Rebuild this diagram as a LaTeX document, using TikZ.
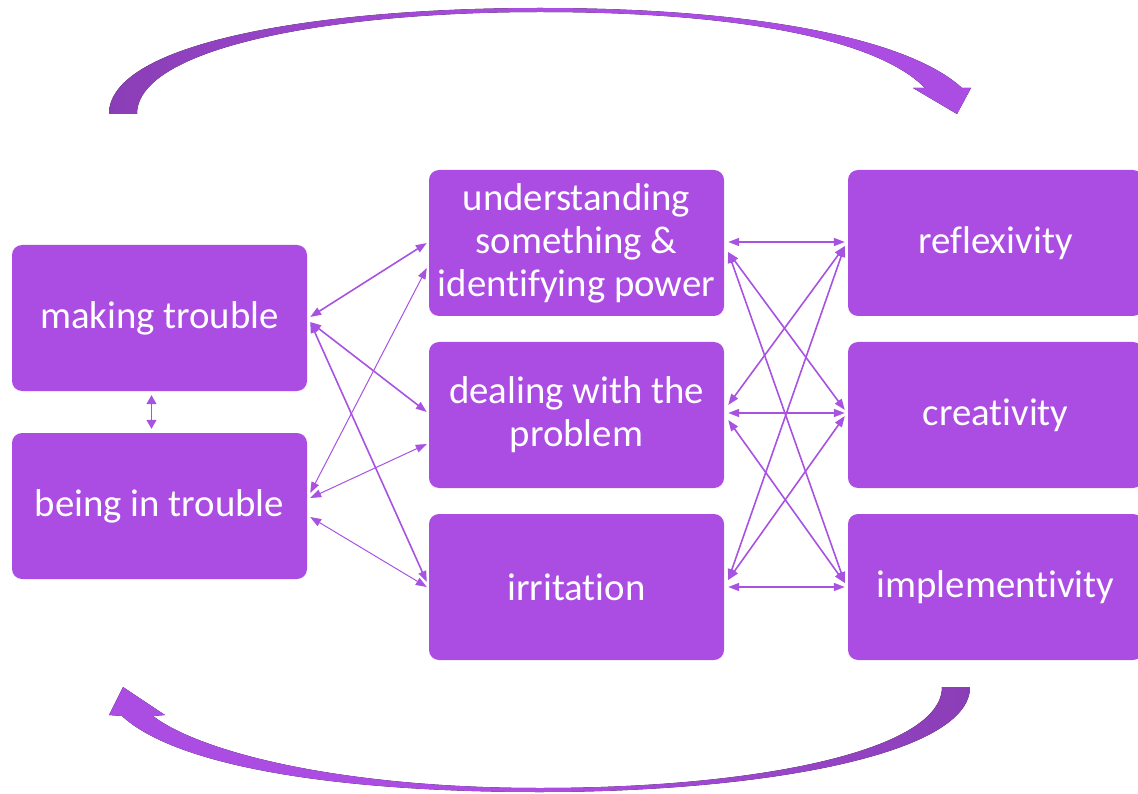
\documentclass[tikz,border=0pt]{standalone}
\usepackage{fontspec}
\setmainfont{Carlito}[Ligatures={NoCommon,NoContextual},Contextuals=NoAlternate]
\usetikzlibrary{arrows.meta,calc}
\definecolor{boxpurple}{RGB}{171,77,226}
\definecolor{linepurple}{RGB}{168,82,226}
\definecolor{darkpurple}{RGB}{138,62,182}
\begin{document}
\begin{tikzpicture}[x=1pt,y=-1pt,
  box/.style={fill=boxpurple, rounded corners=10pt, minimum width=295pt, minimum height=146pt,
    text=white, align=center, font=\fontsize{38.8}{43}\selectfont, inner sep=0pt},
  link/.style={draw=linepurple, line width=1.6pt,
    {Triangle[length=11pt,width=8pt]}-{Triangle[length=11pt,width=8pt]}},
  thinlink/.style={link, line width=1pt},
  smalllink/.style={draw=linepurple, line width=1pt,
    {Triangle[length=9pt,width=10pt]}-{Triangle[length=9pt,width=10pt]}}]
\useasboundingbox (0,0) rectangle (1138,794);
\clip (0,0) rectangle (1138,794);

% boxes
\node[box] (mk) at (159.5,318) {making trouble};
\node[box] (be) at (159.5,506) {being in trouble};
\node[box] (un) at (576.5,243) {understanding\\something \&\\identifying power};
\node[box] (de) at (576.5,415) {dealing with the\\problem};
\node[box] (ir) at (576.5,587) {irritation};
\node[box] (re) at (995.5,243) {reflexivity};
\node[box] (cr) at (995.5,415) {creativity};
\node[box] (im) at (995.5,587) {implementivity};

% left connectors
\draw[link] ($(mk.east)+(3,-1)$) -- ($(un.west)+(-2,0)$);
\draw[link] ($(mk.east)+(3,4)$) -- ($(de.west)+(-2,-3)$);
\draw[link] ($(mk.east)+(3,4)$) -- ($(ir.west)+(-2,-5)$);
\draw[thinlink] ($(un.west)+(-2,25)$) -- ($(be.east)+(3,-13)$);
\draw[thinlink] ($(de.west)+(-2,29)$) -- ($(be.east)+(3,-8)$);
\draw[thinlink] ($(be.east)+(3,11)$) -- ($(ir.west)+(-2,0)$);

% middle small connector
\draw[smalllink] ($(mk.south)+(-8,4)$) -- ($(be.north)+(-8,-4)$);

% right connectors
\draw[link] ($(un.east)+(4,-1)$) -- ($(re.west)+(-3,-1)$);
\draw[link] ($(un.east)+(4,9)$) -- ($(cr.west)+(-3,-5)$);
\draw[link] ($(un.east)+(4,9)$) -- ($(im.west)+(-3,-4)$);
\draw[link] ($(de.east)+(4,-10)$) -- ($(re.west)+(-3,3)$);
\draw[link] ($(de.east)+(4,-2)$) -- ($(cr.west)+(-3,-2)$);
\draw[link] ($(de.east)+(4,5)$) -- ($(im.west)+(-3,-4)$);
\draw[link] ($(ir.east)+(4,-7)$) -- ($(re.west)+(-3,3)$);
\draw[link] ($(ir.east)+(4,-7)$) -- ($(cr.west)+(-3,1)$);
\draw[link] ($(ir.east)+(4,0)$) -- ($(im.west)+(-3,0)$);

% top curved arrow
\fill[left color=darkpurple, right color=boxpurple, middle color=boxpurple]
  (109,114) .. controls (109,42) and (320,8) .. (540,8)
  .. controls (760,8) and (910,40) .. (962,88)
  -- (971,88) -- (957,114) -- (913,88) -- (925,88)
  .. controls (880,42) and (750,12) .. (540,12)
  .. controls (330,12) and (137,48) .. (137,114) -- cycle;

% bottom curved arrow
\fill[left color=boxpurple, right color=darkpurple, middle color=boxpurple]
  (970,687) .. controls (970,755) and (760,792) .. (540,792)
  .. controls (330,792) and (175,765) .. (122,716)
  -- (109,715) -- (123,687) -- (165,715) -- (153,716)
  .. controls (200,752) and (340,788) .. (540,788)
  .. controls (760,788) and (942,750) .. (942,687) -- cycle;
\end{tikzpicture}
\end{document}
